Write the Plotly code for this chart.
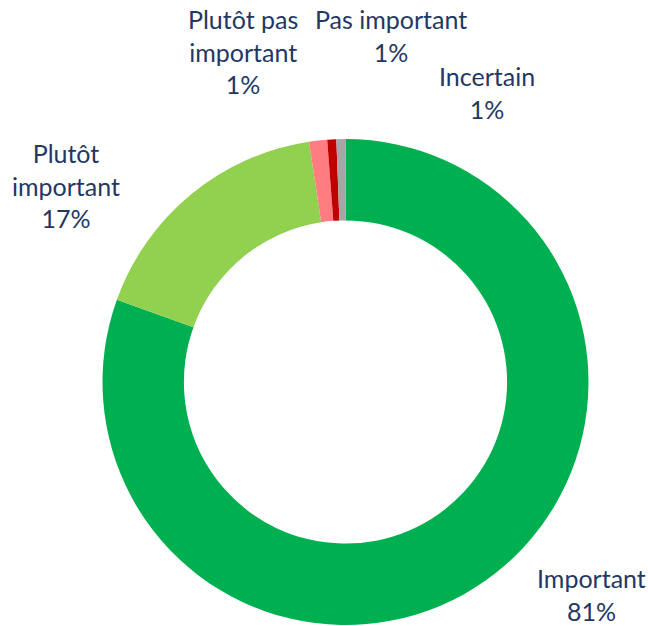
import plotly.graph_objects as go

categories = ["Important", "Plutôt important", "Plutôt pas important", "Pas important", "Incertain"]
values = [80.5, 17.1, 1.2, 0.6, 0.6]
pct_labels = ["81%", "17%", "1%", "1%", "1%"]
label_text = ["Important", "Plutôt<br>important", "Plutôt pas<br>important", "Pas important", "Incertain"]
colors = ["#00B050", "#92D050", "#FF7C80", "#C00000", "#A6A6A6"]

W, H = 648, 626
# label block centres in pixels (layout, not data)
label_pos = [(591, 594), (66, 186), (243, 52), (391, 35), (487, 92)]

fig = go.Figure()
fig.add_trace(go.Pie(
    labels=categories,
    values=values,
    hole=0.665,
    sort=False,
    direction="clockwise",
    rotation=0,
    marker=dict(colors=colors, line=dict(width=0)),
    textinfo="none",
    hoverinfo="label+percent",
    domain=dict(x=[102 / W, 589 / W], y=[1 - 625 / H, 1 - 139 / H]),
    showlegend=False,
))

for txt, pct, (px, py) in zip(label_text, pct_labels, label_pos):
    fig.add_annotation(
        text=f"{txt}<br>{pct}",
        x=px / W, y=1 - py / H,
        xref="paper", yref="paper",
        xanchor="center", yanchor="middle",
        showarrow=False,
        align="center",
        font=dict(family="Lato", size=25, color="#1F3864"),
    )

fig.update_layout(
    width=W, height=H,
    margin=dict(l=0, r=0, t=0, b=0),
    paper_bgcolor="white",
    plot_bgcolor="white",
)

fig.write_html(
    "out.html",
    config={"displayModeBar": False},
    post_script="document.body.style.margin='0px';document.body.style.overflow='hidden';",
)
